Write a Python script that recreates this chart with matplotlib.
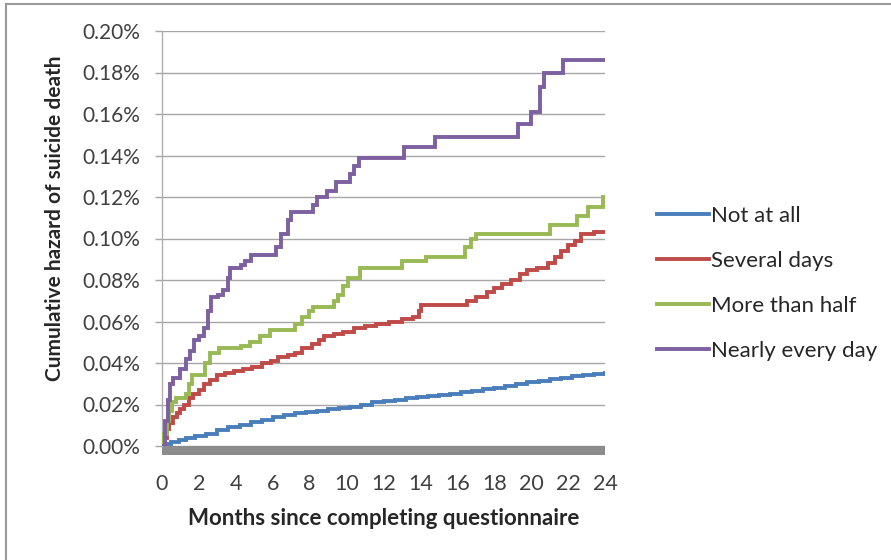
import matplotlib
matplotlib.use("Agg")
import matplotlib.pyplot as plt
from matplotlib.ticker import FuncFormatter
from matplotlib.patches import Rectangle
from matplotlib.lines import Line2D

# ---------------- data (months, cumulative hazard in %) ----------------
series_names = ["Not at all", "Several days", "More than half", "Nearly every day"]
series_colors = ["#4a7ebb", "#be4b48", "#98b954", "#7d60a0"]

not_at_all_t = [0, 0.2, 0.5, 0.9, 1.3, 1.8, 2.4, 3.0, 3.6, 4.2, 4.8, 5.4, 6.0, 6.6,
                7.2, 7.8, 8.4, 9.0, 9.6, 10.2, 10.8, 11.4, 12.0, 12.6, 13.2, 13.8,
                14.4, 15.0, 15.6, 16.2, 16.8, 17.4, 18.0, 18.6, 19.2, 19.8, 20.4,
                21.0, 21.6, 22.2, 22.8, 23.4, 24.0]
not_at_all_v = [0, 0.001, 0.002, 0.003, 0.004, 0.005, 0.006, 0.0075, 0.009, 0.010,
                0.0115, 0.0125, 0.014, 0.015, 0.016, 0.0165, 0.017, 0.018, 0.0185,
                0.019, 0.020, 0.021, 0.0215, 0.022, 0.023, 0.0235, 0.024, 0.0245,
                0.025, 0.026, 0.0265, 0.0275, 0.028, 0.029, 0.030, 0.031, 0.0315,
                0.0325, 0.033, 0.0335, 0.034, 0.0345, 0.035]

several_days_t = [0, 0.1, 0.25, 0.4, 0.6, 0.8, 1.0, 1.2, 1.45, 1.7, 2.0, 2.3, 2.6,
                  3.0, 3.4, 3.9, 4.4, 4.9, 5.4, 5.9, 6.3, 6.8, 7.2, 7.6, 8.1, 8.5,
                  8.8, 9.3, 9.8, 10.4, 11.0, 11.6, 12.3, 13.0, 13.6, 13.9, 14.05,
                  16.5, 17.0, 17.6, 18.0, 18.4, 18.9, 19.4, 19.8, 20.3, 20.9, 21.3,
                  21.6, 22.0, 22.4, 22.7, 23.4, 24.0]
several_days_v = [0, 0.004, 0.008, 0.011, 0.014, 0.016, 0.018, 0.020, 0.023, 0.025,
                  0.027, 0.030, 0.032, 0.034, 0.035, 0.036, 0.037, 0.038, 0.040,
                  0.041, 0.043, 0.044, 0.045, 0.047, 0.049, 0.051, 0.053, 0.054,
                  0.055, 0.057, 0.058, 0.059, 0.060, 0.061, 0.062, 0.065, 0.068,
                  0.070, 0.072, 0.074, 0.076, 0.078, 0.080, 0.083, 0.085, 0.086,
                  0.088, 0.091, 0.094, 0.097, 0.099, 0.102, 0.103, 0.103]

more_than_half_t = [0, 0.1, 0.25, 0.4, 0.55, 0.75, 1.3, 1.45, 1.6, 2.35, 2.6, 3.1,
                    4.3, 4.75, 5.3, 5.85, 7.2, 7.6, 7.95, 8.2, 9.3, 9.55, 9.8, 10.1,
                    10.7, 13.0, 14.3, 16.4, 16.75, 17.0, 21.0, 22.5, 23.1, 23.9, 24.0]
more_than_half_v = [0, 0.006, 0.012, 0.017, 0.021, 0.023, 0.025, 0.030, 0.034,
                    0.040, 0.045, 0.047, 0.048, 0.050, 0.053, 0.056, 0.059, 0.062,
                    0.065, 0.067, 0.070, 0.073, 0.077, 0.081, 0.086, 0.089, 0.091,
                    0.096, 0.100, 0.102, 0.1065, 0.111, 0.115, 0.120, 0.120]

nearly_every_day_t = [0, 0.15, 0.3, 0.45, 0.6, 0.95, 1.3, 1.5, 1.75, 2.0, 2.3, 2.5,
                      2.65, 3.05, 3.3, 3.6, 3.7, 4.3, 4.5, 4.8, 6.15, 6.45, 6.8, 7.0,
                      8.2, 8.4, 8.95, 9.4, 10.2, 10.4, 10.65, 13.1, 14.8, 19.3, 20.0,
                      20.5, 20.7, 21.7, 24.0]
nearly_every_day_v = [0, 0.012, 0.022, 0.030, 0.033, 0.037, 0.042, 0.046, 0.051,
                      0.053, 0.057, 0.065, 0.072, 0.073, 0.075, 0.081, 0.086, 0.087,
                      0.089, 0.092, 0.096, 0.102, 0.109, 0.113, 0.116, 0.120, 0.123,
                      0.127, 0.131, 0.135, 0.139, 0.144, 0.149, 0.155, 0.161, 0.173,
                      0.180, 0.186, 0.186]

x_ticks = list(range(0, 25, 2))
y_ticks = [0.00, 0.02, 0.04, 0.06, 0.08, 0.10, 0.12, 0.14, 0.16, 0.18, 0.20]

x_label = "Months since completing questionnaire"
y_label = "Cumulative hazard of suicide death"

# ---------------- figure ----------------
plt.rcParams["font.family"] = ["Lato", "DejaVu Sans"]
fig = plt.figure(figsize=(8.91, 5.60), dpi=100)
ax = fig.add_axes([162 / 891, 1 - 446 / 560, (605 - 162) / 891, (446 - 31) / 560])

all_t = [not_at_all_t, several_days_t, more_than_half_t, nearly_every_day_t]
all_v = [not_at_all_v, several_days_v, more_than_half_v, nearly_every_day_v]
for t, v, name, c in zip(all_t, all_v, series_names, series_colors):
    ax.step(t, v, where="post", color=c, lw=2.8, label=name, zorder=3,
            solid_joinstyle="miter")

ax.set_xlim(0, 24)
ax.set_ylim(0, 0.20)
ax.set_xticks(x_ticks)
ax.set_yticks(y_ticks)
ax.yaxis.set_major_formatter(FuncFormatter(lambda v, p: f"{v:.2f}%"))

ax.grid(axis="y", color="#a6a6a6", lw=1.0, zorder=0)
for s in ["top", "right", "bottom"]:
    ax.spines[s].set_visible(False)
ax.spines["left"].set_color("#b0b0b0")
ax.spines["left"].set_linewidth(1.0)

ax.tick_params(axis="y", length=5, width=1.0, color="#a6a6a6", pad=11,
               labelsize=15, labelcolor="#404040")
ax.tick_params(axis="x", length=0, pad=20, labelsize=15.5, labelcolor="#404040")

# thick grey base bar below the zero line
ax.add_patch(Rectangle((0, -0.022), 1, 0.022, transform=ax.transAxes,
                       facecolor="#8c8c8c", edgecolor="none", clip_on=False, zorder=2))

ax.set_xlabel(x_label, fontsize=16, fontweight="bold", color="#262626", labelpad=10)
fig.text(55 / 891, 1 - 218 / 560, y_label, rotation=90, ha="center", va="center",
         fontsize=15, fontweight="bold", color="#262626")

leg = ax.legend(loc="center left", bbox_to_anchor=(648 / 891, 1 - 283.5 / 560),
                bbox_transform=fig.transFigure, frameon=False, fontsize=16,
                handlelength=2.35, handletextpad=0.08, labelspacing=1.13,
                borderaxespad=0)
for txt in leg.get_texts():
    txt.set_color("#262626")

# outer frame (top and left edges visible)
fig.add_artist(Line2D([6 / 891, 1], [1 - 4 / 560, 1 - 4 / 560],
                      transform=fig.transFigure, color="#9a9a9a", lw=1.5))
fig.add_artist(Line2D([6 / 891, 6 / 891], [0, 1 - 4 / 560],
                      transform=fig.transFigure, color="#9a9a9a", lw=1.5))

fig.savefig("out.png", dpi=100)
